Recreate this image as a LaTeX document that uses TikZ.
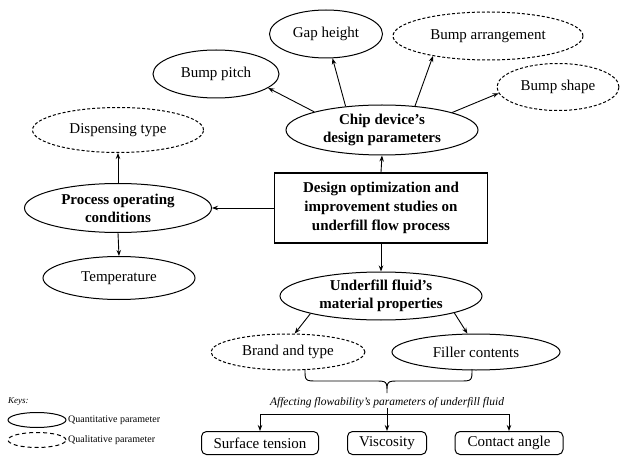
\documentclass[tikz,border=0pt]{standalone}
\usepackage{fontspec}
\setmainfont{Liberation Serif}
\usetikzlibrary{shapes.geometric,arrows.meta}
\begin{document}
\begin{tikzpicture}[x=1pt,y=-1pt,
  every node/.style={inner sep=0pt},
  el/.style={ellipse,draw,line width=1pt,font=\fontsize{15}{19}\selectfont,align=center},
  bel/.style={el,font=\fontsize{15}{18}\selectfont\bfseries},
  qual/.style={el,dash pattern=on 3pt off 2pt},
  rbox/.style={draw,rounded corners=5pt,line width=1pt,font=\fontsize{15}{18}\selectfont},
  arr/.style={-{Stealth[length=6pt,width=4.5pt]},line width=0.9pt},
  ln/.style={line width=0.9pt}]
\useasboundingbox (0,0) rectangle (621,457);
% main box
\node[rectangle,draw,line width=1.8pt,minimum width=213,minimum height=70,align=center,font=\fontsize{15}{19}\selectfont\bfseries] (main) at (381,208) {Design optimization and\\improvement studies on\\underfill flow process};
% chip design
\node[bel,minimum width=192,minimum height=50] (chip) at (382,130) {Chip device’s\\design parameters};
\node[el,minimum width=126,minimum height=48] (pitch) at (216,74) {Bump pitch};
\node[el,minimum width=113,minimum height=48] (gap) at (326,34) {Gap height};
\node[qual,minimum width=190,minimum height=48] (arrg) at (488,36) {Bump arrangement};
\node[qual,minimum width=122,minimum height=47] (bshape) at (558,87) {Bump shape};
% process
\node[bel,minimum width=187,minimum height=49] (proc) at (118,208) {Process operating\\conditions};
\node[qual,minimum width=171,minimum height=45] (disp) at (118,130) {Dispensing type};
\node[el,minimum width=152,minimum height=43] (temp) at (119,278) {Temperature};
% underfill
\node[bel,minimum width=202,minimum height=48] (ufl) at (381,296) {Underfill fluid’s\\material properties};
\node[qual,minimum width=154,minimum height=36] (brand) at (288,352) {Brand and type};
\node[el,minimum width=168,minimum height=36] (filler) at (476,352) {Filler contents};
\node[font=\fontsize{11.5}{13}\selectfont\itshape] (aff) at (387,403) {Affecting flowability’s parameters of underfill fluid};
\node[rbox,minimum width=117,minimum height=23] (st) at (260,443) {Surface tension};
\node[rbox,minimum width=79,minimum height=23] (visc) at (387,443) {Viscosity};
\node[rbox,minimum width=108,minimum height=23] (ca) at (509,443) {Contact angle};
% keys
\node[anchor=west,font=\fontsize{9}{10}\selectfont\itshape] (keys) at (8,402) {Keys:};
\node[ellipse,draw,line width=1pt,minimum width=58,minimum height=15] (kq) at (37,420) {};
\node[anchor=west,font=\fontsize{10}{11}\selectfont] (kqt) at (68,420) {Quantitative parameter};
\node[ellipse,draw,line width=1pt,dash pattern=on 4pt off 3pt,minimum width=58,minimum height=15] (kl) at (37,440) {};
\node[anchor=west,font=\fontsize{10}{11}\selectfont] (klt) at (68,440) {Qualitative parameter};
% arrows
\draw[arr] (chip.165) -- (pitch.-15);
\draw[arr] (chip.147) -- (gap.-75);
\draw[arr] (chip.36) -- (arrg.-160);
\draw[arr] (chip.14) -- (bshape.186);
\draw[arr] (main.north) -- (chip.south);
\draw[arr] (main.west) -- (proc.east);
\draw[arr] (proc.north) -- (disp.south);
\draw[arr] (proc.south) -- (temp.north);
\draw[arr] (main.south) -- (ufl.north);
\draw[arr] (ufl.-166) -- (brand.70);
\draw[arr] (ufl.-13) -- (filler.115);
% brace
\coordinate (bl) at (305,369);
\coordinate (br) at (472,369);
\draw[ln] (bl) .. controls (305,381) .. (318,381) -- (374,381) .. controls (387,381) .. (387,393) .. controls (387,381) .. (400,381) -- (459,381) .. controls (472,381) .. (br);
% bottom distribution
\coordinate (hl) at (387,414);
\draw[ln] (aff.south) -- (hl);
\draw[ln] (st.north |- hl) -- (ca.north |- hl);
\draw[arr] (st.north |- hl) -- (st.north);
\draw[arr] (hl) -- (visc.north);
\draw[arr] (ca.north |- hl) -- (ca.north);
\end{tikzpicture}
\end{document}
